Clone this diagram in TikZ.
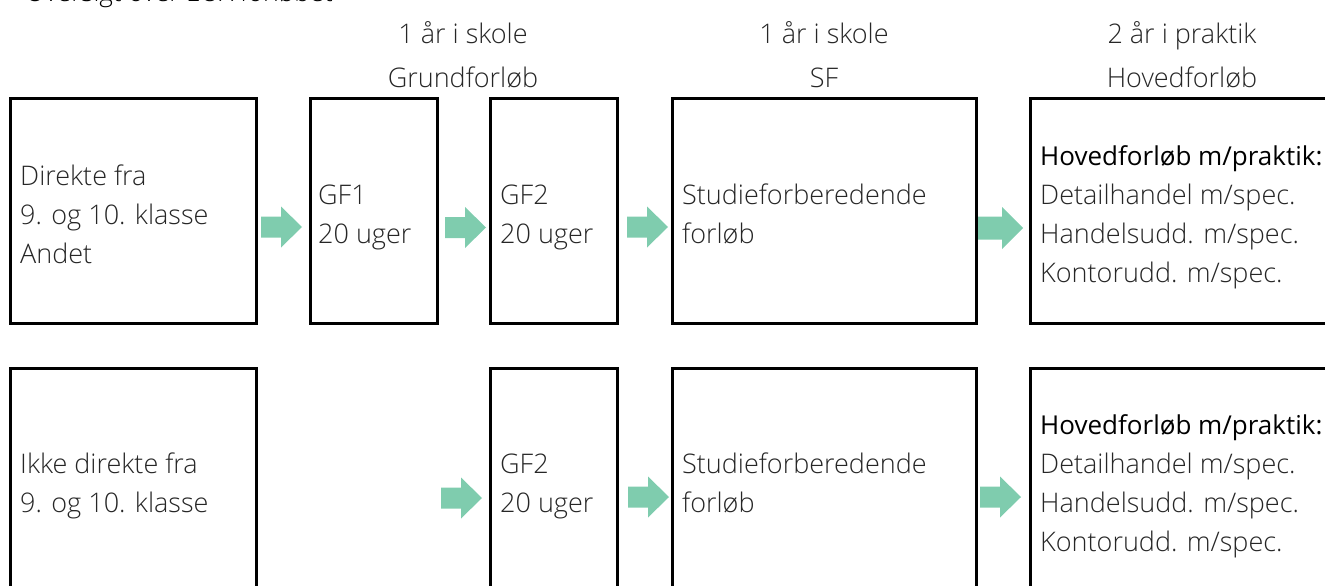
\documentclass[tikz,border=0pt]{standalone}
\usepackage{fontspec}
\setmainfont{Open Sans}
\newfontfamily\lightfont{Open Sans Light}
\definecolor{arrowgreen}{RGB}{127,204,174}
\definecolor{txt}{RGB}{38,38,38}
\begin{document}
\begin{tikzpicture}[x=1pt,y=-1pt,
  box/.style={draw=black,line width=3pt,inner sep=0pt},
  lbl/.style={anchor=base west,inner sep=0pt,text=txt,font=\fontsize{27}{32}\selectfont\lightfont},
  hdr/.style={anchor=base,inner sep=0pt,text=txt,font=\fontsize{27}{32}\selectfont\lightfont},
  bold/.style={anchor=base west,inner sep=0pt,text=black,font=\fontsize{26}{32}\selectfont},
  blockarrow/.pic={\fill[arrowgreen] (0,-10.5)--(20,-10.5)--(20,-20.5)--(41,0)--(20,20.5)--(20,10.5)--(0,10.5)--cycle;},
  blockarrowwide/.pic={\fill[arrowgreen] (0,-11.5)--(24,-11.5)--(24,-21)--(45,0)--(24,21)--(24,11.5)--(0,11.5)--cycle;}]
\useasboundingbox (0,0) rectangle (1325,586);
\clip (0,0) rectangle (1325,586);
% title (cut off at top, as in the reference)
\node[anchor=base west,inner sep=0pt,text=black,font=\fontsize{26}{30}\selectfont\lightfont] (title) at (25,2) {Oversigt over EUX forløbet};
% headers
\node[hdr] (h1a) at (463,44) {1 år i skole};
\node[hdr] (h1b) at (463,88) {Grundforløb};
\node[hdr] (h2a) at (824,44) {1 år i skole};
\node[hdr] (h2b) at (824,88) {SF};
\node[hdr] (h3a) at (1182,44) {2 år i praktik};
\node[hdr] (h3b) at (1182,88) {Hovedforløb};
% row 1 boxes
\node[box,minimum width=246pt,minimum height=225pt] (a1) at (133,210.5) {};
\node[box,minimum width=127pt,minimum height=225pt] (gf1) at (373.5,210.5) {};
\node[box,minimum width=127pt,minimum height=225pt] (gf2a) at (553.5,210.5) {};
\node[box,minimum width=304pt,minimum height=225pt] (sfa) at (824,210.5) {};
\node[box,minimum width=320pt,minimum height=225pt] (hfa) at (1190,210.5) {};
% row 2 boxes
\node[box,minimum width=246pt,minimum height=240pt] (a2) at (133,488) {};
\node[box,minimum width=127pt,minimum height=240pt] (gf2b) at (553.5,488) {};
\node[box,minimum width=304pt,minimum height=240pt] (sfb) at (824,488) {};
\node[box,minimum width=320pt,minimum height=240pt] (hfb) at (1190,488) {};
% row 1 texts
\node[lbl] (t1) at (20,185) {Direkte fra};
\node[lbl] (t2) at (20,224) {9. og 10. klasse};
\node[lbl] (t3) at (20,263) {Andet};
\node[lbl] (t4) at (318,204) {GF1};
\node[lbl] (t5) at (318,243) {20 uger};
\node[lbl] (t6) at (500,204) {GF2};
\node[lbl] (t7) at (500,243) {20 uger};
\node[lbl] (t8) at (682,204) {Studieforberedende};
\node[lbl] (t9) at (682,243) {forløb};
\node[bold] (t10) at (1040,165) {Hovedforløb m/praktik:};
\node[lbl] (t11) at (1040,204) {Detailhandel m/spec.};
\node[lbl] (t12) at (1040,243) {Handelsudd. m/spec.};
\node[lbl] (t13) at (1040,282) {Kontorudd. m/spec.};
% row 2 texts
\node[lbl] (u1) at (20,473) {Ikke direkte fra};
\node[lbl] (u2) at (20,512) {9. og 10. klasse};
\node[lbl] (u3) at (500,473) {GF2};
\node[lbl] (u4) at (500,512) {20 uger};
\node[lbl] (u5) at (682,473) {Studieforberedende};
\node[lbl] (u6) at (682,512) {forløb};
\node[bold] (u7) at (1040,434) {Hovedforløb m/praktik:};
\node[lbl] (u8) at (1040,473) {Detailhandel m/spec.};
\node[lbl] (u9) at (1040,512) {Handelsudd. m/spec.};
\node[lbl] (u10) at (1040,551) {Kontorudd. m/spec.};
% arrows row 1
\pic at (261,227) {blockarrow};
\pic at (445,227.5) {blockarrow};
\pic at (627,227) {blockarrow};
\pic at (978,228) {blockarrowwide};
% arrows row 2
\pic at (441,498) {blockarrow};
\pic at (628,497) {blockarrow};
\pic at (980,497) {blockarrow};
\end{tikzpicture}
\end{document}
